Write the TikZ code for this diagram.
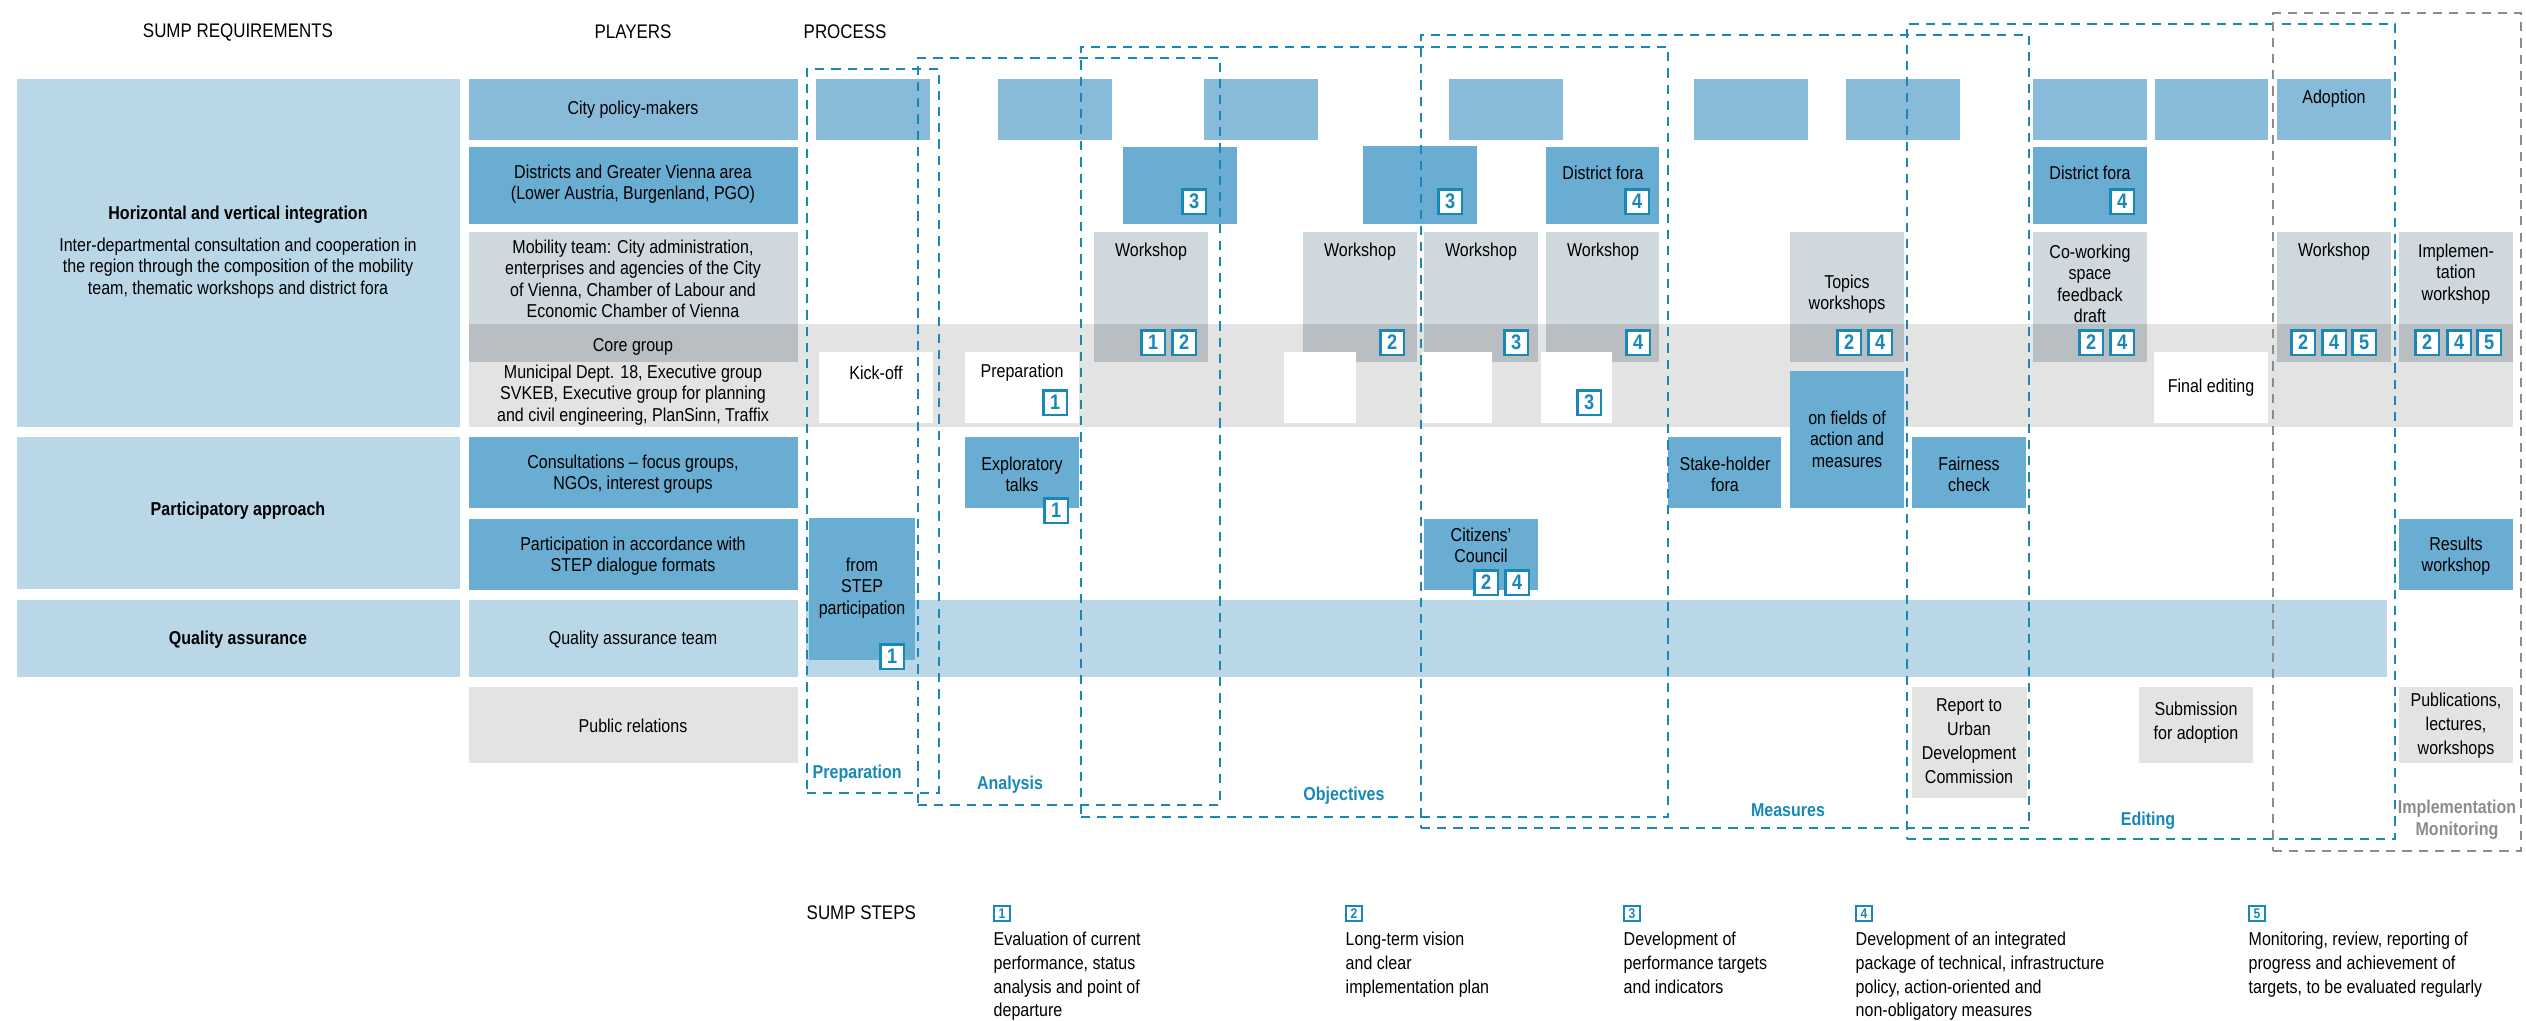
\documentclass[tikz,border=0pt]{standalone}
\usepackage{fontspec}
\setmainfont[FakeStretch=0.86]{Liberation Sans}
\usetikzlibrary{fit}
\definecolor{lb}{HTML}{BAD7E8}
\definecolor{cb}{HTML}{88BBDA}
\definecolor{mb}{HTML}{69ADD2}
\definecolor{mg}{HTML}{CFD8DD}
\definecolor{cg}{HTML}{B9BEC2}
\definecolor{lg}{HTML}{E3E3E3}
\definecolor{db}{HTML}{1888B8}
\definecolor{dg}{HTML}{8C8C8C}
\newcommand\ft{\fontsize{5.3}{6.1}\selectfont}
\newcommand\fl{\fontsize{5.3}{6.8}\selectfont}
\newcommand\fh{\fontsize{5.6}{6.8}\selectfont}
\newcommand\bk[6]{\node[bx,fill=#2,fit={(#3,#4) (#5,#6)}] (#1) {};}
\newcommand\wk[3]{\node[bx,fill=mg,fit={(#2,232) (#3,324)}] (#1) {};\node[bx,fill=cg,fit={(#2,324) (#3,362)}] (#1c) {};}
\newcommand\stp[4]{\node[sb] (#1) at (#2,#3) {#4};}
\begin{document}
\begin{tikzpicture}[x=0.01cm,y=-0.01cm,
  bx/.style={inner sep=0pt,outer sep=0pt,draw=none},
  t/.style={align=center,inner sep=0pt,font=\ft},
  tl/.style={align=left,inner sep=0pt,font=\fl,anchor=north west},
  tr/.style={align=center,inner sep=0pt,font=\fl},
  hd/.style={inner sep=0pt,font=\fh},
  sb/.style={draw=db,line width=0.75pt,fill=white,text=db,font=\fontsize{6}{6}\selectfont\bfseries,minimum width=0.235cm,minimum height=0.245cm,inner sep=0pt,anchor=north west},
  sbs/.style={draw=db,line width=0.5pt,fill=white,text=db,font=\fontsize{4}{4}\selectfont\bfseries,minimum width=0.16cm,minimum height=0.15cm,inner sep=0pt,anchor=north west},
  dbx/.style={draw=db,line width=0.75pt,dash pattern=on 2.6pt off 2pt,inner sep=0pt,outer sep=0pt},
  dgx/.style={draw=dg,line width=0.75pt,dash pattern=on 2.6pt off 2pt,inner sep=0pt,outer sep=0pt},
  lab/.style={inner sep=0pt,font=\ft\bfseries,text=db}]
\useasboundingbox (0,0) rectangle (2526,1021);
% headers
\node[hd] (h1) at (238,32) {SUMP REQUIREMENTS};
\node[hd] (h2) at (633,32) {PLAYERS};
\node[hd,anchor=west] (h3) at (803,32) {PROCESS};
% requirements column
\bk{rq1}{lb}{17}{79}{460}{427}
\bk{rq2}{lb}{17}{437}{460}{589}
\bk{rq3}{lb}{17}{600}{460}{677}
\node[t,font=\ft\bfseries] (rq1t) at (238,215) {Horizontal and vertical integration};
\node[t] (rq1p) at (238,268) {Inter-departmental consultation and cooperation in\\the region through the composition of the mobility\\team, thematic workshops and district fora};
\node[t,font=\ft\bfseries] (rq2t) at (238,511) {Participatory approach};
\node[t,font=\ft\bfseries] (rq3t) at (238,640) {Quality assurance};
% band
\bk{band}{lg}{469}{324}{2513}{427}
% players column
\bk{p1}{cb}{469}{79}{798}{140}
\bk{p2}{mb}{469}{147}{798}{224}
\bk{p3}{mg}{469}{232}{798}{324}
\bk{p4}{cg}{469}{324}{798}{362}
\bk{p6}{mb}{469}{437}{798}{508}
\bk{p7}{mb}{469}{519}{798}{590}
\bk{p8}{lb}{469}{600}{798}{677}
\bk{p9}{lg}{469}{687}{798}{763}
\node[t] (p1t) at (633,109.5) {City policy-makers};
\node[t] (p2t) at (633,184) {Districts and Greater Vienna area\\(Lower Austria, Burgenland, PGO)};
\node[t] (p3t) at (633,279) {Mobility team: City administration,\\enterprises and agencies of the City\\of Vienna, Chamber of Labour and\\Economic Chamber of Vienna};
\node[t] (p4t) at (633,347) {Core group};
\node[t] (p5t) at (633,395) {Municipal Dept. 18, Executive group\\SVKEB, Executive group for planning\\and civil engineering, PlanSinn, Traffix};
\node[t] (p6t) at (633,474) {Consultations -- focus groups,\\NGOs, interest groups};
\node[t] (p7t) at (633,556) {Participation in accordance with\\STEP dialogue formats};
\node[t] (p8t) at (633,640) {Quality assurance team};
\node[t] (p9t) at (633,726) {Public relations};
% city row
\bk{c1}{cb}{816}{79}{930}{140}
\bk{c2}{cb}{998}{79}{1112}{140}
\bk{c3}{cb}{1204}{79}{1318}{140}
\bk{c4}{cb}{1449}{79}{1563}{140}
\bk{c5}{cb}{1694}{79}{1808}{140}
\bk{c6}{cb}{1846}{79}{1960}{140}
\bk{c7}{cb}{2033}{79}{2147}{140}
\bk{c8}{cb}{2155}{79}{2268}{140}
\bk{c9}{cb}{2277}{79}{2391}{140}
\node[t] (c9t) at (2334,99) {Adoption};
% districts row
\bk{d1}{mb}{1123}{147}{1237}{224}
\bk{d2}{mb}{1363}{146}{1477}{224}
\bk{d3}{mb}{1546}{147}{1659}{224}
\bk{d4}{mb}{2033}{147}{2147}{224}
\node[t] (d3t) at (1603,173) {District fora};
\node[t] (d4t) at (2090,173) {District fora};
% mobility row
\wk{m1}{1094}{1208}
\wk{m2}{1303}{1417}
\wk{m3}{1424}{1538}
\wk{m4}{1546}{1659}
\wk{m5}{1790}{1904}
\wk{m6}{2033}{2147}
\wk{m7}{2277}{2391}
\wk{m8}{2399}{2513}
\node[t] (m1t) at (1151,252) {Workshop};
\node[t] (m2t) at (1360,252) {Workshop};
\node[t] (m3t) at (1481,252) {Workshop};
\node[t] (m4t) at (1603,252) {Workshop};
\node[t] (m5t) at (1847,294) {Topics\\workshops};
\node[t] (m6t) at (2090,284) {Co-working\\space\\feedback\\draft};
\node[t] (m7t) at (2334,252) {Workshop};
\node[t] (m8t) at (2456,274) {Implemen-\\tation\\workshop};
% white boxes in core band
\bk{w1}{white}{819}{352}{933}{423}
\bk{w2}{white}{965}{352}{1079}{423}
\bk{w3}{white}{1284}{352}{1356}{423}
\bk{w4}{white}{1422}{352}{1492}{423}
\bk{w5}{white}{1541}{352}{1612}{423}
\bk{w6}{white}{2154}{352}{2268}{423}
\node[t] (w1t) at (876,373) {Kick-off};
\node[t] (w2t) at (1022,373) {Preparation};
\node[t] (w6t) at (2211,388) {Final editing};
% consultation row
\bk{k1}{mb}{965}{437}{1079}{508}
\bk{k2}{mb}{1668}{437}{1781}{508}
\bk{k3}{mb}{1790}{371}{1904}{508}
\bk{k4}{mb}{1912}{437}{2026}{508}
\node[t] (k1t) at (1022,474.5) {Exploratory\\talks};
\node[t] (k2t) at (1725,474.5) {Stake-holder\\fora};
\node[t] (k3t) at (1847,439) {on fields of\\action and\\measures};
\node[t] (k4t) at (1969,474.5) {Fairness\\check};
% quality band
\bk{qa}{lb}{806}{600}{2387}{677}
% participation row
\bk{s1}{mb}{809}{518}{915}{660}
\bk{s2}{mb}{1424}{519}{1538}{590}
\bk{s3}{mb}{2399}{519}{2513}{590}
\node[t] (s1t) at (862,588) {from\\STEP\\participation};
\node[t] (s2t) at (1481,545.5) {Citizens'\\Council};
\node[t] (s3t) at (2456,556) {Results\\workshop};
% public relations row
\bk{r1}{lg}{1912}{687}{2027}{798}
\bk{r2}{lg}{2139}{687}{2253}{763}
\bk{r3}{lg}{2399}{687}{2513}{763}
\node[tr] (r1t) at (1969,741) {Report to\\Urban\\Development\\Commission};
\node[tr] (r2t) at (2196,723) {Submission\\for adoption};
\node[tr] (r3t) at (2456,726) {Publications,\\lectures,\\workshops};
% step markers
\stp{sd1}{1181}{188}{3}
\stp{sd2}{1437}{188}{3}
\stp{sd3}{1624}{188}{4}
\stp{sd4}{2109}{188}{4}
\stp{sm1a}{1140}{329}{1}
\stp{sm1b}{1171}{329}{2}
\stp{sm2}{1379}{329}{2}
\stp{sm3}{1503}{329}{3}
\stp{sm4}{1625}{329}{4}
\stp{sm5a}{1836}{329}{2}
\stp{sm5b}{1867}{329}{4}
\stp{sm6a}{2078}{329}{2}
\stp{sm6b}{2109}{329}{4}
\stp{sm7a}{2290}{329}{2}
\stp{sm7b}{2321}{329}{4}
\stp{sm7c}{2351}{329}{5}
\stp{sm8a}{2414}{329}{2}
\stp{sm8b}{2446}{329}{4}
\stp{sm8c}{2476}{329}{5}
\stp{sw2}{1042}{389}{1}
\stp{sw5}{1576}{389}{3}
\stp{sk1}{1043}{497}{1}
\stp{ss1}{879}{643}{1}
\stp{ss2a}{1473}{569}{2}
\stp{ss2b}{1504}{569}{4}
% phase boxes
\node[dbx,fit={(807,69) (939,793)}] (ph1) {};
\node[dbx,fit={(918,58) (1220,805)}] (ph2) {};
\node[dbx,fit={(1081,47) (1668,817)}] (ph3) {};
\node[dbx,fit={(1421,35) (2029,828)}] (ph4) {};
\node[dbx,fit={(1907,24) (2395,839)}] (ph5) {};
\node[dgx,fit={(2273,13) (2521,851)}] (ph6) {};
\node[lab,anchor=west] (ph1t) at (812,774) {Preparation};
\node[lab] (ph2t) at (1010,785) {Analysis};
\node[lab] (ph3t) at (1344,796) {Objectives};
\node[lab] (ph4t) at (1788,810) {Measures};
\node[lab] (ph5t) at (2148,821) {Editing};
\node[lab,text=dg,align=center,font=\fontsize{5.3}{6.3}\selectfont\bfseries] (ph6t) at (2457,820) {Implementation\\Monitoring};
% legend
\node[hd,anchor=west] (lg0) at (806,913) {SUMP STEPS};
\node[sbs] (lg1) at (993,905) {1};
\node[sbs] (lg2) at (1345,905) {2};
\node[sbs] (lg3) at (1623,905) {3};
\node[sbs] (lg4) at (1855,905) {4};
\node[sbs] (lg5) at (2248,905) {5};
\node[tl] (lg1t) at (993,931) {Evaluation of current\\performance, status\\analysis and point of\\departure};
\node[tl] (lg2t) at (1345,931) {Long-term vision\\and clear\\implementation plan};
\node[tl] (lg3t) at (1623,931) {Development of\\performance targets\\and indicators};
\node[tl] (lg4t) at (1855,931) {Development of an integrated\\package of technical, infrastructure\\policy, action-oriented and\\non-obligatory measures};
\node[tl] (lg5t) at (2248,931) {Monitoring, review, reporting of\\progress and achievement of\\targets, to be evaluated regularly};
\end{tikzpicture}
\end{document}
